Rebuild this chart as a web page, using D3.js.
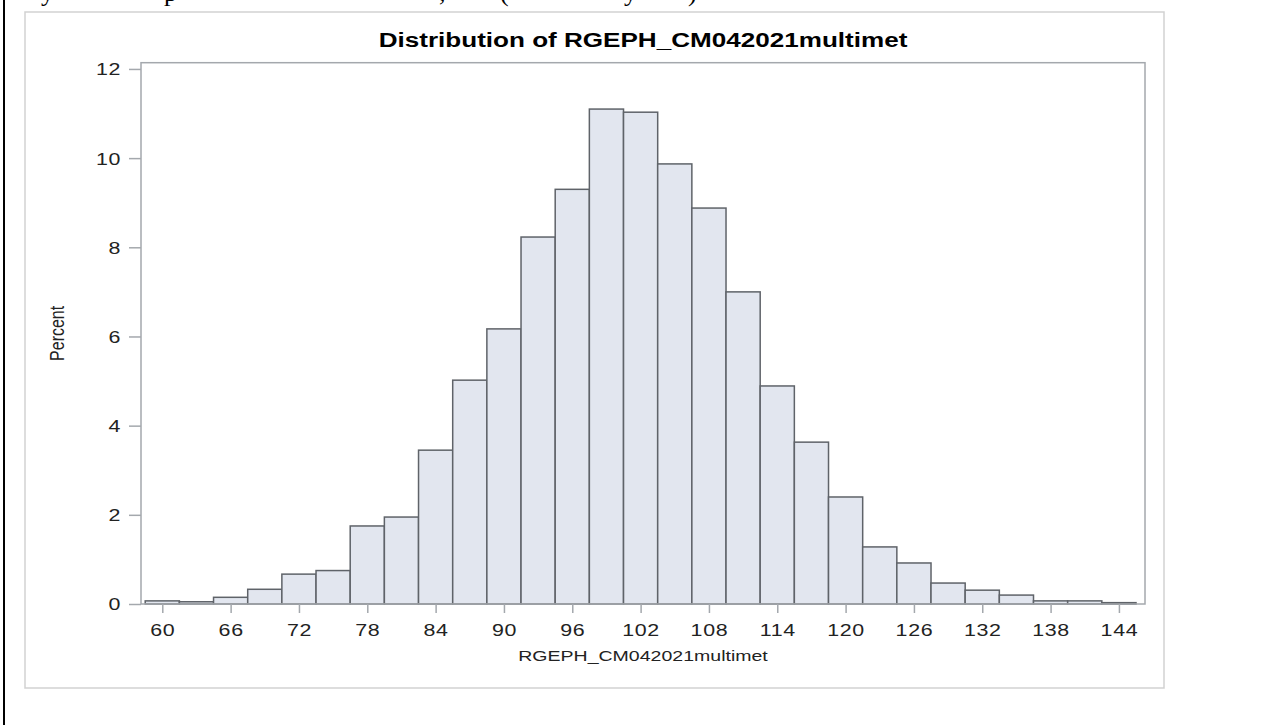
<!DOCTYPE html>
<html>
<head>
<meta charset="utf-8">
<script src="https://cdn.jsdelivr.net/npm/d3@7"></script>
<style>
  body { margin: 0; background: #fff; }
  svg text { font-family: "Liberation Sans", Arial, sans-serif; }
</style>
</head>
<body>
<svg id="chart"></svg>
<script>
// histogram bins (midpoints) and percent per bin
const binMids = [60, 63, 66, 69, 72, 75, 78, 81, 84, 87, 90, 93, 96, 99, 102, 105, 108, 111, 114, 117, 120, 123, 126, 129, 132, 135, 138, 141, 144];
const percents = [0.07, 0.05, 0.15, 0.33, 0.67, 0.75, 1.75, 1.95, 3.45, 5.02, 6.17, 8.23, 9.3, 11.1, 11.03, 9.87, 8.88, 7.0, 4.89, 3.63, 2.4, 1.28, 0.92, 0.47, 0.31, 0.2, 0.07, 0.07, 0.03];
const binWidth = 3;

const xTicks = [60, 66, 72, 78, 84, 90, 96, 102, 108, 114, 120, 126, 132, 138, 144];
const yTicks = [0, 2, 4, 6, 8, 10, 12];

const titleText = 'Distribution of RGEPH_CM042021multimet';
const xLabelText = 'RGEPH_CM042021multimet';
const yLabelText = 'Percent';

// descenders of the document line above the picture (cut off at the top)
const clipGlyphs = ['y', 'p', ',', '(', 'y', ')'];
const clipGlyphX = [41, 164, 439, 500, 624, 688];

const width = 1274;
const height = 725;
const sx = 1.26; // the picture is stretched sideways, so is its text

const svg = d3.select('#chart')
  .attr('width', width)
  .attr('height', height);

svg.append('rect')
  .attr('width', width)
  .attr('height', height)
  .attr('fill', '#fff');

// black cell border at the left
svg.append('line')
  .attr('x1', 4).attr('x2', 4)
  .attr('y1', 0).attr('y2', height)
  .attr('stroke', '#000')
  .attr('stroke-width', 2);

svg.selectAll('.clip')
  .data(clipGlyphs)
  .enter().append('text')
  .attr('class', 'clip')
  .attr('x', (d, i) => clipGlyphX[i])
  .attr('y', 0.5)
  .style('font-family', '"Liberation Serif", "Times New Roman", serif')
  .attr('font-size', 26)
  .attr('fill', '#000')
  .text(d => d);

// outer graph frame
svg.append('rect')
  .attr('x', 25).attr('y', 12)
  .attr('width', 1139).attr('height', 676)
  .attr('fill', '#fff')
  .attr('stroke', '#d2d2d2')
  .attr('stroke-width', 1.5);

const plot = { left: 141, right: 1145, top: 62.7, bottom: 604 };

const x = d3.scaleLinear()
  .domain([58.13, 146.29])
  .range([plot.left, plot.right]);

const y = d3.scaleLinear()
  .domain([0, 12.14])
  .range([plot.bottom, plot.top]);

// bars
svg.append('g')
  .selectAll('rect')
  .data(binMids)
  .enter().append('rect')
  .attr('x', d => x(d - binWidth / 2))
  .attr('y', (d, i) => y(percents[i]))
  .attr('width', d => x(d + binWidth / 2) - x(d - binWidth / 2))
  .attr('height', (d, i) => y(0) - y(percents[i]))
  .attr('fill', '#e2e6ef')
  .attr('stroke', '#5f6369')
  .attr('stroke-width', 1.5);

// plot frame
svg.append('rect')
  .attr('x', plot.left).attr('y', plot.top)
  .attr('width', plot.right - plot.left)
  .attr('height', plot.bottom - plot.top)
  .attr('fill', 'none')
  .attr('stroke', '#a4a8ad')
  .attr('stroke-width', 1.5);

const axisColor = '#a4a8ad';

const xAxis = svg.append('g')
  .attr('transform', `translate(0,${plot.bottom})`)
  .call(d3.axisBottom(x).tickValues(xTicks).tickSize(9).tickSizeOuter(0));

xAxis.select('.domain').remove();
xAxis.selectAll('line').attr('stroke', axisColor).attr('stroke-width', 1.5);
xAxis.selectAll('text')
  .attr('y', 0)
  .attr('dy', 0)
  .attr('transform', `translate(0,32) scale(${sx},1)`)
  .attr('font-size', 17)
  .attr('letter-spacing', 0.5)
  .attr('fill', '#222')
  .style('font-family', '"Liberation Sans", Arial, sans-serif');

const yAxis = svg.append('g')
  .attr('transform', `translate(${plot.left},0)`)
  .call(d3.axisLeft(y).tickValues(yTicks).tickSize(12).tickSizeOuter(0));

yAxis.select('.domain').remove();
yAxis.selectAll('line').attr('stroke', axisColor).attr('stroke-width', 1.5);
yAxis.selectAll('text')
  .attr('x', 0)
  .attr('dy', '0.35em')
  .attr('transform', `translate(-20,0) scale(${sx},1)`)
  .attr('font-size', 17)
  .attr('letter-spacing', 0.5)
  .attr('fill', '#222')
  .style('font-family', '"Liberation Sans", Arial, sans-serif');

// title
svg.append('text')
  .attr('transform', `translate(${(plot.left + plot.right) / 2},47) scale(${sx},1)`)
  .attr('text-anchor', 'middle')
  .attr('font-size', 20.7)
  .attr('font-weight', 'bold')
  .attr('fill', '#000')
  .text(titleText);

// axis labels
svg.append('text')
  .attr('transform', `translate(${(plot.left + plot.right) / 2},661) scale(${sx},1)`)
  .attr('text-anchor', 'middle')
  .attr('font-size', 15.5)
  .attr('fill', '#222')
  .text(xLabelText);

svg.append('text')
  .attr('transform', `translate(64,${(plot.top + plot.bottom) / 2}) scale(${sx},1) rotate(-90)`)
  .attr('text-anchor', 'middle')
  .attr('font-size', 16)
  .attr('fill', '#222')
  .text(yLabelText);
</script>
</body>
</html>
